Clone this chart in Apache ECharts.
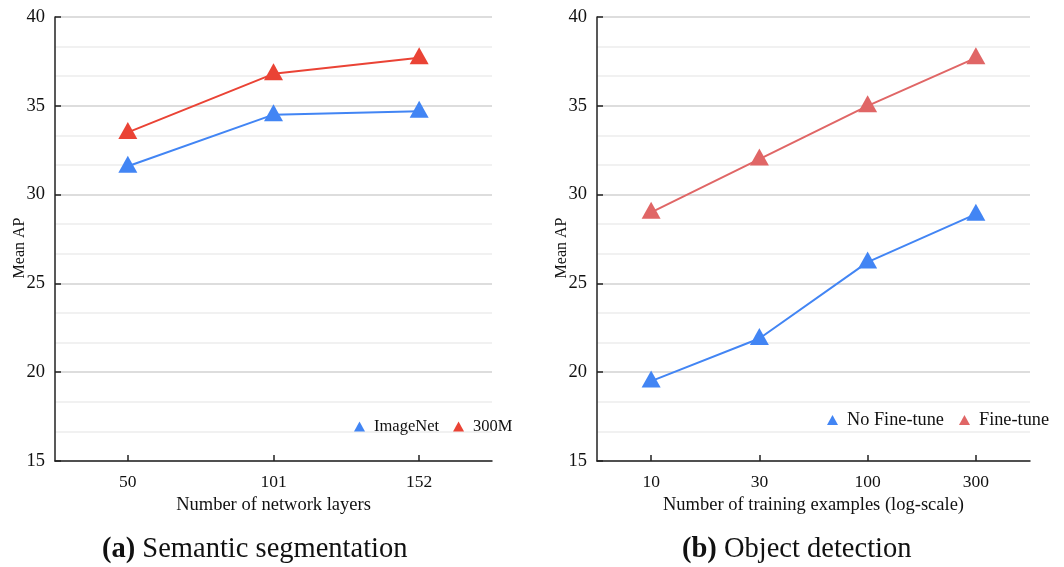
<!DOCTYPE html>
<html>
<head>
<meta charset="utf-8">
<script src="https://cdn.jsdelivr.net/npm/echarts@6/dist/echarts.min.js"></script>
<style>html,body{margin:0;padding:0;background:#fff}#c{width:1064px;height:567px}</style>
</head>
<body>
<div id="c"></div>
<script>
// ---- data ----
const layersCats = ['50', '101', '152'];
const imagenetAP = [31.6, 34.5, 34.7];
const jft300mAP = [33.5, 36.8, 37.7];

const examplesCats = ['10', '30', '100', '300'];
const noFinetuneAP = [19.5, 21.9, 26.2, 28.9];
const finetuneAP = [29.0, 32.0, 35.0, 37.7];

const yMin = 15, yMax = 40, yStep = 5;

// ---- styles ----
const FONT = '"Liberation Serif", "DejaVu Serif", serif';
const TXT = '#111';
const BLUE = '#4285F4';
const RED = '#EA4335';
const RED2 = '#E06666';

function yAxisCfg(gridIndex) {
  return {
    type: 'value', gridIndex: gridIndex,
    min: yMin, max: yMax, interval: yStep,
    name: 'Mean AP', nameLocation: 'middle', nameGap: 27, nameMoveOverlap: false,
    nameTextStyle: { fontFamily: FONT, fontSize: 16, color: TXT, padding: [0, 18, 0, 0] },
    axisLine: { show: true, lineStyle: { color: '#222', width: 1.5 } },
    axisTick: { show: true, inside: true, length: 6, lineStyle: { color: '#222', width: 1.5 } },
    axisLabel: { fontFamily: FONT, fontSize: 18.5, color: TXT, margin: 10 },
    splitLine: { show: true, lineStyle: { color: '#d2d2d2', width: 1.5 } },
    minorTick: { show: false, splitNumber: 3 },
    minorSplitLine: { show: true, lineStyle: { color: '#ededed', width: 1.5 } }
  };
}
function xAxisCfg(gridIndex, cats, name) {
  return {
    type: 'category', gridIndex: gridIndex, data: cats, boundaryGap: true,
    name: name, nameLocation: 'middle', nameGap: 35,
    nameTextStyle: { fontFamily: FONT, fontSize: 18.5, color: TXT },
    axisLine: { show: true, lineStyle: { color: '#222', width: 1.5 } },
    axisTick: { show: true, inside: true, alignWithLabel: true, length: 6, lineStyle: { color: '#222', width: 1.5 } },
    axisLabel: { fontFamily: FONT, fontSize: 17.5, color: TXT, margin: 12 },
    splitLine: { show: false }
  };
}
function lineSeries(name, data, color, idx) {
  return {
    name: name, type: 'line', data: data,
    xAxisIndex: idx, yAxisIndex: idx,
    symbol: 'triangle', symbolSize: [19, 17], symbolOffset: [0, -2],
    showSymbol: true,
    lineStyle: { color: color, width: 2 },
    itemStyle: { color: color },
    emphasis: { disabled: true },
    animation: false
  };
}

const chart = echarts.init(document.getElementById('c'), null, { renderer: 'canvas' });
chart.setOption({
  backgroundColor: '#fff',
  animation: false,
  grid: [
    { left: 55, right: 572, top: 17, bottom: 106, containLabel: false },
    { left: 597, right: 34, top: 17, bottom: 106, containLabel: false }
  ],
  xAxis: [
    xAxisCfg(0, layersCats, 'Number of network layers'),
    xAxisCfg(1, examplesCats, 'Number of training examples (log-scale)')
  ],
  yAxis: [yAxisCfg(0), yAxisCfg(1)],
  legend: [
    {
      data: ['ImageNet', '300M'], left: 349, top: 413, width: 300,
      orient: 'horizontal', icon: 'triangle', itemWidth: 11, itemHeight: 10, itemGap: 14,
      textStyle: { fontFamily: FONT, fontSize: 16.5, color: TXT, padding: [0, 0, 0, 4] },
      selectedMode: false
    },
    {
      data: ['No Fine-tune', 'Fine-tune'], left: 822, top: 406, width: 400,
      orient: 'horizontal', icon: 'triangle', itemWidth: 11, itemHeight: 10, itemGap: 15,
      textStyle: { fontFamily: FONT, fontSize: 18.3, color: TXT, padding: [0, 0, 0, 4] },
      selectedMode: false
    }
  ],
  series: [
    lineSeries('ImageNet', imagenetAP, BLUE, 0),
    lineSeries('300M', jft300mAP, RED, 0),
    lineSeries('No Fine-tune', noFinetuneAP, BLUE, 1),
    lineSeries('Fine-tune', finetuneAP, RED2, 1)
  ],
  graphic: [
    {
      type: 'text', left: 102, top: 535,
      style: {
        text: '{b|(a)} Semantic segmentation',
        font: '28.5px ' + FONT, fill: TXT,
        rich: { b: { fontFamily: FONT, fontSize: 28.5, fontWeight: 'bold', fill: TXT } }
      }
    },
    {
      type: 'text', left: 682, top: 535,
      style: {
        text: '{b|(b)} Object detection',
        font: '28.5px ' + FONT, fill: TXT,
        rich: { b: { fontFamily: FONT, fontSize: 28.5, fontWeight: 'bold', fill: TXT } }
      }
    }
  ]
});
</script>
</body>
</html>
